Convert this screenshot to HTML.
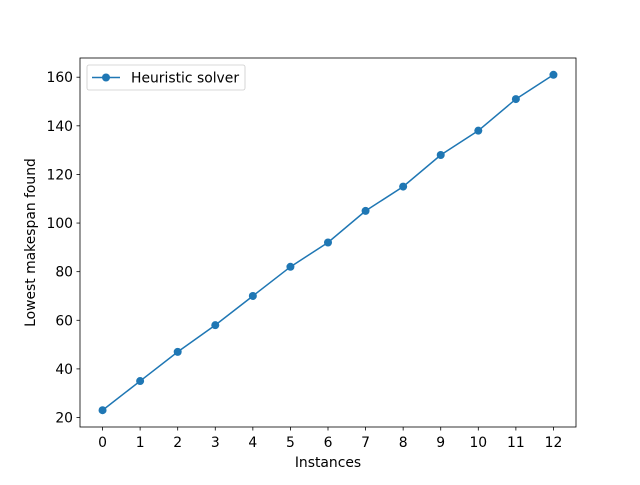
<!DOCTYPE html>
<html><head><meta charset="utf-8"><style>
body{margin:0;background:#fff}
svg text{font-family:"DejaVu Sans","Liberation Sans",sans-serif;font-size:13.9px;fill:#000}
</style></head><body>
<svg id="chart" width="640" height="480">
<rect x="0" y="0" width="640" height="480" fill="#fff"/>
<g id="axes"></g>
</svg>
<script>
const categories=[0,1,2,3,4,5,6,7,8,9,10,11,12];
const makespanValues=[23,35,47,58,70,82,92,105,115,128,138,151,161];
const yTicks=[20,40,60,80,100,120,140,160];
const L=80,R=576,T=58,B=427;
const xmin=-0.6,xmax=12.6,ymin=16.1,ymax=167.9;
const sx=v=>L+(v-xmin)/(xmax-xmin)*(R-L);
const sy=v=>B-(v-ymin)/(ymax-ymin)*(B-T);
const NS="http://www.w3.org/2000/svg";
const g=document.getElementById('axes');
function mk(t,a,p){const e=document.createElementNS(NS,t);for(const k in a)e.setAttribute(k,a[k]);(p||g).appendChild(e);return e;}
categories.forEach(c=>{
  const x=sx(c);
  const tk=mk('line',{x1:x,x2:x,y1:B,y2:B+3.5,stroke:'#000','stroke-width':0.8});
  
  
  const t=mk('text',{x:x,y:B+20,'text-anchor':'middle'});t.textContent=c;
  
  
});
yTicks.forEach(v=>{
  const y=sy(v);
  const tk=mk('line',{x1:L-3.5,x2:L,y1:y,y2:y,stroke:'#000','stroke-width':0.8});
  
  
  const t=mk('text',{x:L-7,y:y+5,'text-anchor':'end'});t.textContent=v;
  
  
});
const pts=categories.map((c,i)=>sx(c)+','+sy(makespanValues[i])).join(' ');
const line=mk('polyline',{points:pts,fill:'none',stroke:'#1f77b4','stroke-width':1.5});


categories.forEach((c,i)=>{
  const p=mk('circle',{cx:sx(c),cy:sy(makespanValues[i]),r:4,fill:'#1f77b4'});
  
  
});
const fr=mk('rect',{x:L,y:T,width:R-L,height:B-T,fill:'none',stroke:'#000','stroke-width':0.8});


const xt=mk('text',{x:(L+R)/2,y:467,'text-anchor':'middle'});xt.textContent='Instances';


const yt=mk('text',{x:0,y:0,'text-anchor':'middle',transform:'translate(35,'+((T+B)/2)+') rotate(-90)'});yt.textContent='Lowest makespan found';


const lg=mk('g',{});


mk('rect',{x:87,y:65,width:158,height:25,rx:2,fill:'#fff',stroke:'#ccc','stroke-width':0.8},lg);
mk('line',{x1:92,x2:120,y1:77.5,y2:77.5,stroke:'#1f77b4','stroke-width':1.5},lg);
mk('circle',{cx:106,cy:77.5,r:4,fill:'#1f77b4'},lg);
const lt=mk('text',{x:131,y:82.5},lg);lt.textContent='Heuristic solver';


</script>
</body></html>
